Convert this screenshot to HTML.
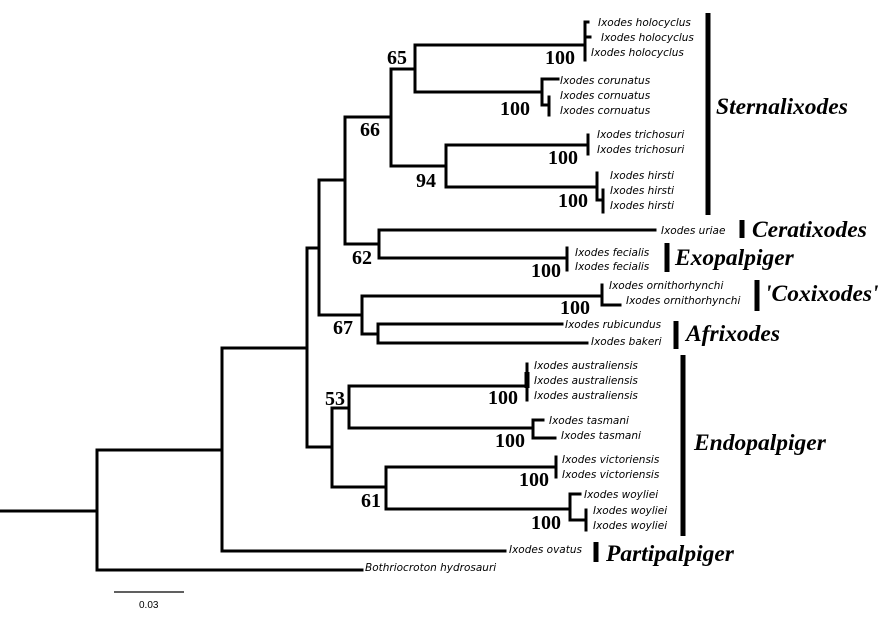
<!DOCTYPE html>
<html><head><meta charset="utf-8"><style>
html,body{margin:0;padding:0;background:#fff;}
svg{display:block}
.l{font-family:"DejaVu Sans","Liberation Sans",sans-serif;font-style:italic;font-size:10.5px;fill:#000}
.b{font-family:"Liberation Serif",serif;font-weight:bold;font-size:20px;fill:#000}
.c{font-family:"Liberation Serif",serif;font-weight:bold;font-style:italic;font-size:23.5px;fill:#000}
</style></head><body>
<svg width="896" height="630" viewBox="0 0 896 630" xmlns="http://www.w3.org/2000/svg">
<g stroke="#000" stroke-width="3" fill="none" stroke-linecap="square">
<path d="M0 511H97M97 450V570M97 570H362M97 450H222M222 348V551M222 551H505M222 348H307M307 248V447"/>
<path d="M307 248H319M319 180V315M319 180H345M345 117V244M345 117H391M391 69V166M391 69H415M415 45V92M415 45H585M585 22V60M585 22H588M585 37H590M415 92H542M542 79V105M542 79H558M542 105H549M549 97V115"/>
<path d="M391 166H446M446 145V187M446 145H588M588 135V154M446 187H597M597 173V200M597 200H603M603 190V212"/>
<path d="M345 244H379M379 230V258M379 230H655M379 258H567M567 248V270"/>
<path d="M319 315H362M362 296V334M362 296H602M602 285V305M602 305H620M362 334H378M378 324V343M378 324H562M378 343H587"/>
<path d="M307 447H332M332 408V487M332 408H349M349 386V428M349 386H527M527 364V400M349 428H533M533 420V438M533 420H543M533 438H555"/>
<path d="M332 487H386M386 467V509M386 467H556M556 457V477M386 509H570M570 494V520M570 494H580M570 520H586M586 510V530"/>
</g>
<g stroke="#000" stroke-width="5">
<path d="M527 372V388"/>
<path d="M708 13V215M742 220V238M667 243V272M757 280V311M676 321V349M683 355V536M596 542V562"/>
</g>
<path d="M114 592H184" stroke="#000" stroke-width="1.2"/>
<text x="139" y="608" font-family="Liberation Sans,sans-serif" font-size="10">0.03</text>
<g class="l">
<text x="598" y="26">Ixodes holocyclus</text>
<text x="601" y="41">Ixodes holocyclus</text>
<text x="591" y="56">Ixodes holocyclus</text>
<text x="560" y="84">Ixodes corunatus</text>
<text x="560" y="99">Ixodes cornuatus</text>
<text x="560" y="114">Ixodes cornuatus</text>
<text x="597" y="138">Ixodes trichosuri</text>
<text x="597" y="153">Ixodes trichosuri</text>
<text x="610" y="179">Ixodes hirsti</text>
<text x="610" y="194">Ixodes hirsti</text>
<text x="610" y="209">Ixodes hirsti</text>
<text x="661" y="234">Ixodes uriae</text>
<text x="575" y="256">Ixodes fecialis</text>
<text x="575" y="270">Ixodes fecialis</text>
<text x="609" y="289">Ixodes ornithorhynchi</text>
<text x="626" y="304">Ixodes ornithorhynchi</text>
<text x="565" y="328">Ixodes rubicundus</text>
<text x="591" y="345">Ixodes bakeri</text>
<text x="534" y="369">Ixodes australiensis</text>
<text x="534" y="384">Ixodes australiensis</text>
<text x="534" y="399">Ixodes australiensis</text>
<text x="549" y="424">Ixodes tasmani</text>
<text x="561" y="439">Ixodes tasmani</text>
<text x="562" y="463">Ixodes victoriensis</text>
<text x="562" y="478">Ixodes victoriensis</text>
<text x="584" y="498">Ixodes woyliei</text>
<text x="593" y="514">Ixodes woyliei</text>
<text x="593" y="529">Ixodes woyliei</text>
<text x="509" y="553">Ixodes ovatus</text>
<text x="365" y="571">Bothriocroton hydrosauri</text>
</g>
<g class="b">
<text x="387" y="64">65</text>
<text x="545" y="64">100</text>
<text x="500" y="115">100</text>
<text x="360" y="136">66</text>
<text x="548" y="164">100</text>
<text x="416" y="187">94</text>
<text x="558" y="207">100</text>
<text x="352" y="264">62</text>
<text x="531" y="277">100</text>
<text x="560" y="314">100</text>
<text x="333" y="334">67</text>
<text x="325" y="405">53</text>
<text x="488" y="404">100</text>
<text x="495" y="447">100</text>
<text x="519" y="486">100</text>
<text x="361" y="507">61</text>
<text x="531" y="529">100</text>
</g>
<g class="c">
<text x="716" y="114">Sternalixodes</text>
<text x="752" y="237">Ceratixodes</text>
<text x="675" y="265">Exopalpiger</text>
<text x="765" y="301">'Coxixodes'</text>
<text x="686" y="341">Afrixodes</text>
<text x="694" y="450">Endopalpiger</text>
<text x="606" y="561">Partipalpiger</text>
</g>
</svg>
</body></html>
